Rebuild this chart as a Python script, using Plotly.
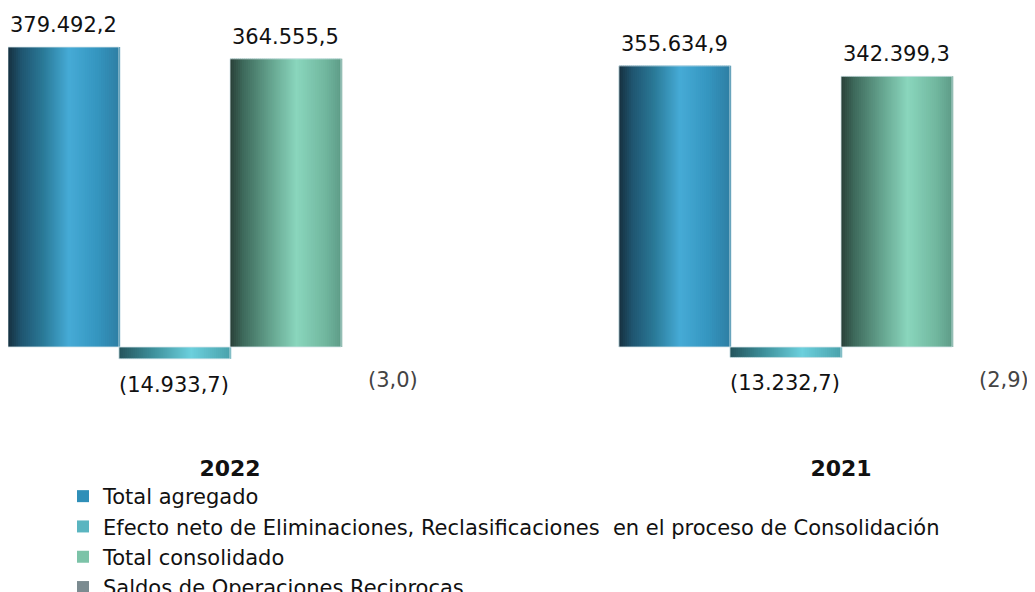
import plotly.graph_objects as go

years = ["2022", "2021"]
series_names = [
    "Total agregado",
    "Efecto neto de Eliminaciones, Reclasificaciones  en el proceso de Consolidación",
    "Total consolidado",
    "Saldos de Operaciones Reciprocas",
]
total_agregado = [379492.2, 355634.9]
efecto_neto = [-14933.7, -13232.7]
total_consolidado = [364555.5, 342399.3]
saldos_reciprocos = [-3.0, -2.9]

legend_colors = ["#2f8fb8", "#5ab5c0", "#7cc3a8", "#7b8b90"]
# horizontal "cylinder" shading, (position, colour) stops
gradients = [
    [(0.0, "#16303e"), (0.12, "#1f5570"), (0.32, "#2a7a98"), (0.55, "#46abd6"), (0.8, "#3596c0"), (1.0, "#2e7fa4")],
    [(0.0, "#24545c"), (0.3, "#3d8f9a"), (0.65, "#6cd0dd"), (1.0, "#4aa2ac")],
    [(0.0, "#2a4038"), (0.12, "#3e6a5c"), (0.35, "#62a08b"), (0.6, "#8ad6bd"), (0.85, "#72b8a0"), (1.0, "#5e9c88")],
    [(0.0, "#7b8b90"), (1.0, "#7b8b90")],
]
label_colors = ["#111111", "#111111", "#111111", "#444444"]
label_yshift = [22, -26, 22, -33]
label_xshift = [0, 0, 0, -4]

FONT = "DejaVu Sans"
N_STRIPS = 56
BARGAP = 0.273

W, H = 1027, 584  # page body has an 8px margin


def fmt(v):
    s = f"{abs(v):,.1f}".replace(",", "X").replace(".", ",").replace("X", ".")
    return f"({s})" if v < 0 else s


def hex_to_rgb(h):
    h = h.lstrip("#")
    return tuple(int(h[i:i + 2], 16) for i in (0, 2, 4))


def shade(stops, t):
    for (p0, c0), (p1, c1) in zip(stops, stops[1:]):
        if p0 <= t <= p1:
            f = (t - p0) / (p1 - p0) if p1 > p0 else 0
            a, b = hex_to_rgb(c0), hex_to_rgb(c1)
            return "rgb(%d,%d,%d)" % tuple(round(a[k] + (b[k] - a[k]) * f) for k in range(3))
    return stops[-1][1]


all_values = [total_agregado, efecto_neto, total_consolidado, saldos_reciprocos]
x = [0, 1]
group_w = 1 - BARGAP
bar_w = group_w / len(all_values)
strip_w = bar_w / N_STRIPS

fig = go.Figure()
annotations = []

for i, (name, vals) in enumerate(zip(series_names, all_values)):
    base_off = -group_w / 2 + i * bar_w
    # solid bar carries the legend entry
    fig.add_trace(
        go.Bar(
            x=x,
            y=vals,
            name=name,
            width=bar_w,
            offset=base_off,
            marker=dict(color=legend_colors[i], line=dict(width=0)),
            hoverinfo="name+y",
        )
    )
    if i < 3:
        for j in range(N_STRIPS):
            t = (j + 0.5) / N_STRIPS
            fig.add_trace(
                go.Bar(
                    x=x,
                    y=vals,
                    width=strip_w * 1.6,
                    offset=base_off + j * strip_w,
                    marker=dict(color=shade(gradients[i], t), line=dict(width=0)),
                    showlegend=False,
                    hoverinfo="skip",
                )
            )
        # faint light edge
        fig.add_trace(
            go.Bar(
                x=x,
                y=vals,
                width=bar_w,
                offset=base_off,
                marker=dict(color="rgba(0,0,0,0)", line=dict(width=1, color="rgba(215,230,235,0.8)")),
                showlegend=False,
                hoverinfo="skip",
            )
        )
    for xi, v in zip(x, vals):
        annotations.append(
            dict(
                x=xi + base_off + bar_w / 2,
                y=v,
                text=fmt(v),
                showarrow=False,
                xanchor="center",
                yanchor="middle",
                xshift=label_xshift[i],
                yshift=label_yshift[i],
                font=dict(family=FONT, size=21, color=label_colors[i]),
            )
        )

px_per_unit = 379492.2 / 300.0
plot_h = 445
zero_px = 339

fig.update_layout(
    width=W,
    height=H,
    barmode="overlay",
    plot_bgcolor="white",
    paper_bgcolor="white",
    margin=dict(l=0, r=0, t=0, b=H - plot_h, autoexpand=False),
    font=dict(family=FONT, color="#111111"),
    annotations=annotations,
    showlegend=True,
    legend=dict(
        orientation="v",
        x=55 / W,
        xanchor="left",
        y=(H - 468) / H,
        yref="container",
        yanchor="top",
        font=dict(family=FONT, size=21, color="#111111"),
        itemsizing="constant",
        traceorder="normal",
        bgcolor="rgba(0,0,0,0)",
    ),
    xaxis=dict(
        range=[-222 / 611, (W - 222) / 611],
        tickvals=x,
        ticktext=[f"<b>{y}</b>" for y in years],
        tickfont=dict(family=FONT, size=22, color="#111111"),
        showgrid=False,
        showline=False,
        zeroline=False,
        ticks="",
        automargin=False,
    ),
    yaxis=dict(
        range=[-(plot_h - zero_px) * px_per_unit, zero_px * px_per_unit],
        visible=False,
        showgrid=False,
        zeroline=False,
        automargin=False,
    ),
)

fig.write_html("out.html")
